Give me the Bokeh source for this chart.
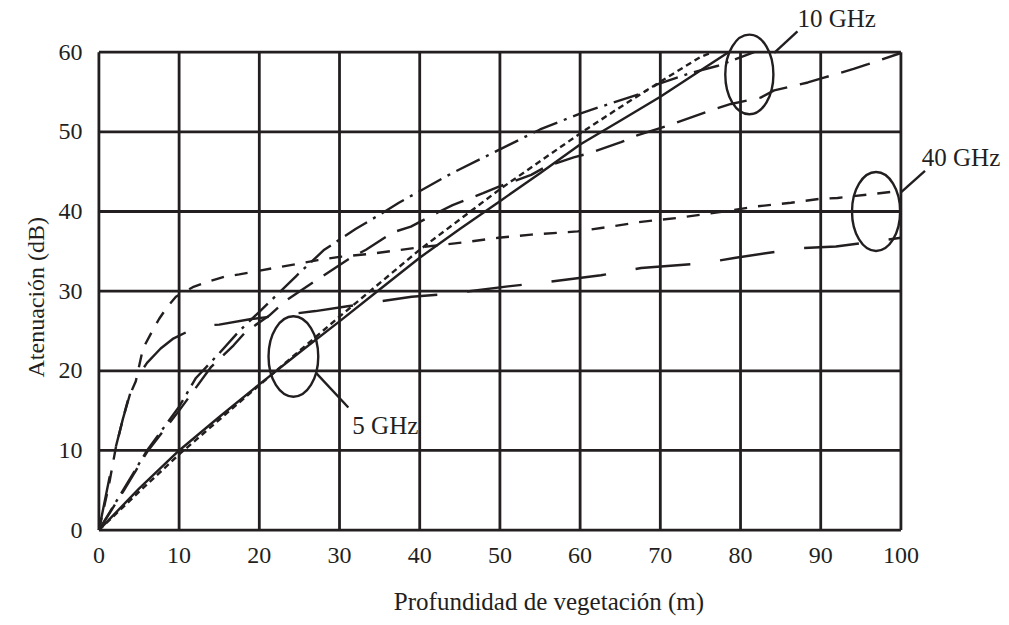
from bokeh.plotting import figure
from bokeh.models import FixedTicker, Range1d, Label, Title
from bokeh.embed import file_html
from bokeh.resources import INLINE

# ---- data ----
x_ticks = [0, 10, 20, 30, 40, 50, 60, 70, 80, 90, 100]
y_ticks = [0, 10, 20, 30, 40, 50, 60]

# 5 GHz (solid)
g5a_x = [0, 5, 10, 15, 20, 25, 30, 35, 40, 45, 50, 55, 60, 65, 70, 75, 78.5]
g5a_y = [0, 5.2, 10, 14.2, 18.3, 22.3, 26.2, 30.2, 34.2, 37.8, 41.3, 44.8, 48.4, 51.4, 54.4, 57.7, 60]
# 5 GHz (short dash)
g5b_x = [0, 5, 10, 20, 30, 40, 50, 60, 65, 70, 75, 76.5]
g5b_y = [0, 4.8, 9.5, 18.2, 26.8, 35.2, 42.8, 49.8, 53.1, 56.3, 59.4, 60]
# 10 GHz (dash-dot)
g10a_x = [0, 3, 6, 10, 12.1, 15, 17.5, 20, 24.6, 28.1, 32, 35, 37.4, 44, 50, 55, 60, 64.2, 67.6, 69.7, 73.8, 77.2, 81.7]
g10a_y = [0, 5, 10, 15.5, 19.1, 22.2, 25, 27.4, 31.9, 35.2, 37.8, 39.6, 41.1, 44.8, 47.8, 50.3, 52.3, 53.7, 54.8, 56.0, 57.4, 58.3, 60]
# 10 GHz (long dash)
g10b_x = [0, 3, 6, 10, 14, 16.8, 18.3, 21.2, 23.3, 26.4, 31.4, 33.3, 36.7, 38.9, 42.3, 44.1, 47.9, 49.8, 53.9, 55.7, 59.2, 61.1, 65.1, 67.2, 71, 76.3, 78.8, 82.5, 84.2, 88.4, 90.4, 94.1, 95.9, 100]
g10b_y = [0, 4.8, 9.8, 15, 20.5, 23.2, 24.9, 26.9, 28.8, 30.9, 34.2, 35.2, 37.4, 38.1, 39.9, 40.8, 42.3, 43.1, 44.6, 45.6, 46.8, 47.3, 48.7, 49.6, 50.8, 52.7, 53.5, 54.3, 55.2, 56.2, 56.8, 57.9, 58.5, 59.9]
# 40 GHz (medium dash)
g40a_x = [0, 1.2, 2.1, 3, 3.7, 4.6, 5.5, 6.5, 7.5, 8.5, 9.6, 11.7, 13.3, 15.6, 17.5, 19.6, 24.6, 27.3, 30, 34, 40, 45.3, 49.8, 53.9, 59.7, 63.8, 67.6, 72.2, 77.9, 81.7, 86.3, 90, 92.1, 100]
g40a_y = [0, 5.4, 10.3, 14, 16.6, 18.7, 22.8, 24.7, 26.5, 28, 29.3, 30.5, 31.1, 31.8, 32.1, 32.5, 33.4, 33.9, 34.3, 34.7, 35.5, 36.1, 36.7, 37.1, 37.5, 38.1, 38.7, 39.2, 40, 40.6, 41.1, 41.6, 41.7, 42.6]
# 40 GHz (long dash)
g40b_x = [0, 1, 2, 3, 4, 5, 6, 7.7, 9.2, 11.2, 13.3, 15, 19, 27, 31, 39, 43, 51, 55.5, 62.6, 67.6, 75.4, 79.4, 87.5, 91.9, 100]
g40b_y = [0, 5, 10, 14, 17.5, 19.5, 21, 22.8, 24, 25, 25.7, 25.8, 26.5, 27.5, 28.1, 29.3, 29.6, 30.6, 31.1, 32, 32.9, 33.5, 34.2, 35.4, 35.6, 36.7]

INK = "#231f20"
FONT = "Liberation Serif"
FS = "24px"

p = figure(width=1001, height=617,
           x_range=Range1d(-0.3, 112.54), y_range=Range1d(-0.3, 66.49),
           output_backend="svg", toolbar_location=None,
           min_border_left=96, min_border_right=0, min_border_top=0, min_border_bottom=82)
p.outline_line_color = None
p.xgrid.visible = False
p.ygrid.visible = False
p.background_fill_color = "white"
p.border_fill_color = "white"

for ax in (p.xaxis[0], p.yaxis[0]):
    ax.axis_line_color = None
    ax.major_tick_line_color = None
    ax.minor_tick_line_color = None
    ax.major_tick_out = 0
    ax.major_tick_in = 0
    ax.major_label_text_font = FONT
    ax.major_label_text_font_size = FS
    ax.major_label_text_color = INK
p.xaxis[0].ticker = FixedTicker(ticks=x_ticks)
p.yaxis[0].ticker = FixedTicker(ticks=y_ticks)
p.xaxis[0].major_label_standoff = 15
p.yaxis[0].major_label_standoff = 14

p.xaxis[0].axis_label = "Profundidad de vegetación (m)"
p.xaxis[0].axis_label_text_font = FONT
p.xaxis[0].axis_label_text_font_size = "25px"
p.xaxis[0].axis_label_text_font_style = "normal"
p.xaxis[0].axis_label_text_color = INK
p.xaxis[0].axis_label_standoff = 22

p.add_layout(Title(text="Atenuación (dB)", align="left", vertical_align="top", offset=155, standoff=10,
                   text_font=FONT, text_font_size="24px", text_font_style="normal",
                   text_color=INK), "left")

# grid + frame drawn from tick arrays
xmin, xmax = x_ticks[0], x_ticks[-1]
ymin, ymax = y_ticks[0], y_ticks[-1]
p.segment(x0=x_ticks, y0=[ymin] * len(x_ticks), x1=x_ticks, y1=[ymax] * len(x_ticks),
          line_color=INK, line_width=2.8)
p.segment(x0=[xmin] * len(y_ticks), y0=y_ticks, x1=[xmax] * len(y_ticks), y1=y_ticks,
          line_color=INK, line_width=2.8)

# curves
LW = 2.4
p.line(g5a_x, g5a_y, line_color=INK, line_width=LW)
p.line(g5b_x, g5b_y, line_color=INK, line_width=LW, line_dash="6 4")
p.line(g10a_x, g10a_y, line_color=INK, line_width=LW, line_dash="26 7 3 7")
p.line(g10b_x, g10b_y, line_color=INK, line_width=LW, line_dash="30 13")
p.line(g40a_x, g40a_y, line_color=INK, line_width=LW, line_dash="13 11")
p.line(g40b_x, g40b_y, line_color=INK, line_width=LW, line_dash="55 30")

# group ellipses and leaders
p.ellipse(x=[24.25, 81.1, 96.9], y=[21.8, 57.2, 40.0], width=[6.2, 6.0, 6.0], height=[10.1, 10.0, 9.9],
          fill_color=None, line_color=INK, line_width=2.4)
p.segment(x0=[27.1, 84.2, 100.0], y0=[19.7, 59.9, 42.4], x1=[31.1, 87.1, 103.0], y1=[15.4, 62.6, 45.1],
          line_color=INK, line_width=2.4)

for txt, lx, ly in [("10 GHz", 87.1, 64.2), ("40 GHz", 102.6, 46.8), ("5 GHz", 31.6, 13.1)]:
    p.add_layout(Label(x=lx, y=ly, text=txt, text_font=FONT, text_font_size="25px",
                       text_color=INK, text_align="left", text_baseline="middle"))

open("out.html", "w").write(file_html(p, INLINE))
